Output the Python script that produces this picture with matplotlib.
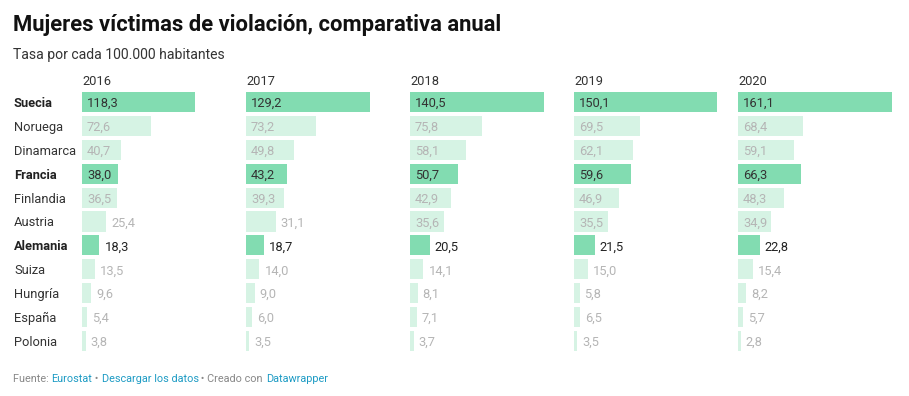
import matplotlib
matplotlib.use("Agg")
import matplotlib.pyplot as plt
from matplotlib.transforms import offset_copy

plt.rcParams['font.family'] = ['Roboto', 'DejaVu Sans']

countries = ["Suecia", "Noruega", "Dinamarca", "Francia", "Finlandia", "Austria",
             "Alemania", "Suiza", "Hungría", "España", "Polonia"]
highlight = ["Suecia", "Francia", "Alemania"]
years = ["2016", "2017", "2018", "2019", "2020"]
v2016 = [118.3, 72.6, 40.7, 38.0, 36.5, 25.4, 18.3, 13.5, 9.6, 5.4, 3.8]
v2017 = [129.2, 73.2, 49.8, 43.2, 39.3, 31.1, 18.7, 14.0, 9.0, 6.0, 3.5]
v2018 = [140.5, 75.8, 58.1, 50.7, 42.9, 35.6, 20.5, 14.1, 8.1, 7.1, 3.7]
v2019 = [150.1, 69.5, 62.1, 59.6, 46.9, 35.5, 21.5, 15.0, 5.8, 6.5, 3.5]
v2020 = [161.1, 68.4, 59.1, 66.3, 48.3, 34.9, 22.8, 15.4, 8.2, 5.7, 2.8]
series = [v2016, v2017, v2018, v2019, v2020]

W, H = 909, 396
fig = plt.figure(figsize=(W / 100, H / 100), dpi=100)

DARK = "#82dcb1"
LIGHT = "#d6f3e4"
TXT = "#333333"
GREY = "#b5b5b5"

def fx(px):
    return px / W

def fy(py):
    return 1 - py / H

n = len(countries)
row_h = 23.9
top = 102 - row_h / 2
bottom = top + n * row_h
xmax = max(max(s) for s in series)

for i, (yr, vals) in enumerate(zip(years, series)):
    left = 82 + i * 164
    ax = fig.add_axes([fx(left), fy(bottom), 154 / W, (bottom - top) / H])
    ax.set_xlim(0, xmax)
    ax.set_ylim(n - 0.5, -0.5)
    ax.axis("off")
    colors = [DARK if c in highlight else LIGHT for c in countries]
    ax.barh(range(n), vals, height=0.84, color=colors, edgecolor="none")
    tin = offset_copy(ax.transData, fig=fig, x=5, y=0, units="dots")
    for j, v in enumerate(vals):
        lab = f"{v:.1f}".replace(".", ",")
        hl = countries[j] in highlight
        if v >= 32:
            ax.text(0, j, lab, transform=tin, ha="left", va="center_baseline",
                    fontsize=9.3, color=TXT if hl else GREY)
        else:
            ax.text(v, j, lab, transform=tin, ha="left", va="center_baseline",
                    fontsize=9.3, color="#222222" if hl else GREY)
    fig.text(fx(left), fy(80), yr, ha="left", va="center_baseline",
             fontsize=9.3, color=TXT)

for j, c in enumerate(countries):
    y = 102 + j * row_h
    hl = c in highlight
    fig.text(fx(14), fy(y), c, ha="left", va="center_baseline", fontsize=9.3,
             color="#222222" if hl else TXT, fontweight="bold" if hl else "normal")

fig.text(fx(13), fy(22), "Mujeres víctimas de violación, comparativa anual",
         ha="left", va="center_baseline", fontsize=15.8, fontweight="bold",
         color="#111111")
fig.text(fx(13), fy(54), "Tasa por cada 100.000 habitantes",
         ha="left", va="center_baseline", fontsize=10.1, color="#333333")

# footer
parts = [("Fuente: ", "#888888"), ("Eurostat", "#1d9bc4"), (" • ", "#888888"),
         ("Descargar los datos", "#1d9bc4"), (" • Creado con ", "#888888"),
         ("Datawrapper", "#1d9bc4")]
renderer = fig.canvas.get_renderer()
prefix = ""
for txt, col in parts:
    if prefix:
        probe = fig.text(0, 0, prefix + "|", fontsize=7.8)
        bar = fig.text(0, 0, "|", fontsize=7.8)
        w = probe.get_window_extent(renderer=renderer).width - \
            bar.get_window_extent(renderer=renderer).width
        probe.remove()
        bar.remove()
    else:
        w = 0
    fig.text(fx(13 + w), fy(378), txt, ha="left", va="center_baseline",
             fontsize=7.8, color=col)
    prefix += txt

fig.savefig("out.png", dpi=100, facecolor="white")
